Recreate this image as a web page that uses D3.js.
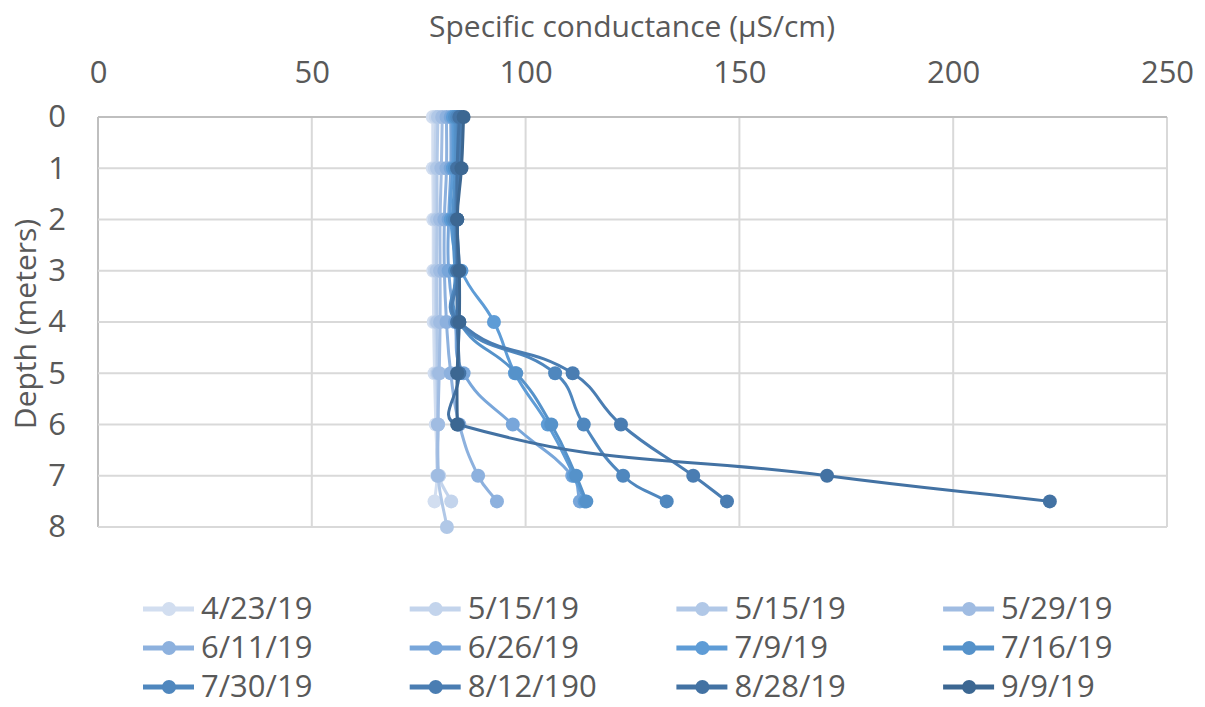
<!DOCTYPE html>
<html>
<head>
<meta charset="utf-8">
<script src="https://cdn.jsdelivr.net/npm/d3@7"></script>
<style>
  body { margin: 0; background: #fff; }
  text { font-family: 'Open Sans', sans-serif; fill: #595959; }
</style>
</head>
<body>
<svg id="chart"></svg>
<script>
const dates = ['4/23/19', '5/15/19', '5/15/19', '5/29/19', '6/11/19', '6/26/19',
  '7/9/19', '7/16/19', '7/30/19', '8/12/190', '8/28/19', '9/9/19'];

const depths = [0, 1, 2, 3, 4, 5, 6, 7, 7.5, 8];

// specific conductance per sampling date, one value per depth (null = not sampled)
const conductance = [
  [78.3, 78.3, 78.4, 78.4, 78.5, 78.7, 79.0, 79.3, 78.7, null],
  [79.0, 78.8, 78.8, 78.8, 79.0, 79.2, 79.5, 79.8, 82.6, null],
  [79.5, 79.3, 79.3, 79.2, 79.3, 79.5, 79.5, 79.5, null, 81.6],
  [80.5, 80.3, 80.0, 80.0, 80.0, 79.8, 79.5, 79.5, null, null],
  [81.5, 81.5, 81.0, 81.0, 81.5, 82.5, 84.5, 88.9, 93.3, null],
  [82.5, 82.5, 82.0, 82.0, 83.5, 85.5, 97.0, 110.9, 112.7, null],
  [83.0, 83.0, 82.5, 85.0, 92.6, 97.5, 105.2, 111.3, 113.8, null],
  [83.5, 83.5, 83.0, 83.5, 84.5, 97.8, 106.0, 111.8, 114.2, null],
  [84.0, 84.0, 83.5, 84.0, 84.0, 106.9, 113.6, 122.8, 133.0, null],
  [85.0, 84.5, 84.0, 84.5, 84.5, 111.0, 122.3, 139.2, 147.1, null],
  [84.5, 84.0, 84.0, 84.0, 84.0, 84.5, 84.2, 170.5, 222.6, null],
  [85.5, 85.0, 84.0, 84.5, 84.5, 84.0, 84.0, null, null, null],
];

const colors = ['#d2def0', '#c3d4ec', '#b1c8e7', '#a0bce2', '#8db1de', '#78a6da',
  '#5e9cd6', '#5592ca', '#4f87be', '#4a7db2', '#4372a3', '#3c6792'];

const xTicks = [0, 50, 100, 150, 200, 250];
const yTicks = [0, 1, 2, 3, 4, 5, 6, 7, 8];

const width = 1205;
const height = 707;
const margin = { top: 117, right: 38, bottom: 180, left: 98 };

// spreadsheet-style smoothed line: tangent along neighbours, handle length tied to the segment
function smoothCurve(context) {
  const k = 0.45;
  let pts = [];
  return {
    areaStart() {},
    areaEnd() {},
    lineStart() { pts = []; },
    point(px, py) { pts.push([+px, +py]); },
    lineEnd() {
      const n = pts.length;
      if (!n) return;
      context.moveTo(pts[0][0], pts[0][1]);
      if (n === 1) return;
      const tangent = i => {
        const a = pts[Math.max(0, i - 1)];
        const b = pts[Math.min(n - 1, i + 1)];
        const dx = b[0] - a[0], dy = b[1] - a[1];
        const len = Math.hypot(dx, dy) || 1;
        return [dx / len, dy / len];
      };
      for (let i = 0; i < n - 1; i++) {
        const p0 = pts[i], p1 = pts[i + 1];
        const d = Math.hypot(p1[0] - p0[0], p1[1] - p0[1]) * k;
        const t0 = tangent(i), t1 = tangent(i + 1);
        context.bezierCurveTo(
          p0[0] + t0[0] * d, p0[1] + t0[1] * d,
          p1[0] - t1[0] * d, p1[1] - t1[1] * d,
          p1[0], p1[1]);
      }
    },
  };
}

const svg = d3.select('#chart')
  .attr('width', width)
  .attr('height', height);

const x = d3.scaleLinear()
  .domain([0, 250])
  .range([margin.left, width - margin.right]);
const y = d3.scaleLinear()
  .domain([0, 8])
  .range([margin.top, height - margin.bottom]);

// grid
svg.append('g')
  .selectAll('line.v')
  .data(xTicks)
  .enter().append('line')
    .attr('x1', d => x(d)).attr('x2', d => x(d))
    .attr('y1', y(0)).attr('y2', y(8))
    .attr('stroke', d => d === 0 ? '#bfbfbf' : '#d9d9d9')
    .attr('stroke-width', 2);

svg.append('g')
  .selectAll('line.h')
  .data(yTicks)
  .enter().append('line')
    .attr('x1', x(0)).attr('x2', x(250))
    .attr('y1', d => y(d)).attr('y2', d => y(d))
    .attr('stroke', d => d === 0 ? '#bfbfbf' : '#d9d9d9')
    .attr('stroke-width', 2);

// axes labels
const xAxis = d3.axisTop(x).tickValues(xTicks).tickSize(0).tickPadding(34);
svg.append('g')
  .attr('transform', `translate(0, ${margin.top})`)
  .call(xAxis)
  .call(g => g.select('.domain').remove())
  .selectAll('text')
    .style('font-size', '31px')
    .attr('fill', '#595959');

const yAxis = d3.axisLeft(y).tickValues(yTicks).tickSize(0).tickPadding(32);
svg.append('g')
  .attr('transform', `translate(${margin.left}, 0)`)
  .call(yAxis)
  .call(g => g.select('.domain').remove())
  .selectAll('text')
    .style('font-size', '31px')
    .attr('fill', '#595959');

svg.append('text')
  .attr('x', 632)
  .attr('y', 37)
  .attr('text-anchor', 'middle')
  .style('font-size', '30px')
  .text('Specific conductance (µS/cm)');

svg.append('text')
  .attr('transform', `translate(36, ${(y(0) + y(8)) / 2 + 2}) rotate(-90)`)
  .attr('text-anchor', 'middle')
  .style('font-size', '30px')
  .text('Depth (meters)');

// series
const series = dates.map((date, i) => ({
  date,
  color: colors[i],
  points: depths.map((d, j) => ({ depth: d, value: conductance[i][j] }))
    .filter(p => p.value !== null),
}));

const line = d3.line()
  .x(p => x(p.value))
  .y(p => y(p.depth))
  .curve(smoothCurve);

const seriesG = svg.append('g')
  .selectAll('g.series')
  .data(series)
  .enter().append('g')
    .attr('class', 'series');

seriesG.append('path')
  .attr('d', d => line(d.points))
  .attr('fill', 'none')
  .attr('stroke', d => d.color)
  .attr('stroke-width', 3);

seriesG.selectAll('circle')
  .data(d => d.points.map(p => Object.assign({ color: d.color }, p)))
  .enter().append('circle')
    .attr('cx', p => x(p.value))
    .attr('cy', p => y(p.depth))
    .attr('r', 7)
    .attr('fill', p => p.color);

// legend
const legend = svg.append('g')
  .selectAll('g.item')
  .data(series)
  .enter().append('g')
    .attr('class', 'item')
    .attr('transform', (d, i) => `translate(${143 + (i % 4) * 266.7}, ${609 + Math.floor(i / 4) * 39})`);

legend.append('line')
  .attr('x1', 0).attr('x2', 51)
  .attr('stroke', d => d.color)
  .attr('stroke-width', 5);

legend.append('circle')
  .attr('cx', 26)
  .attr('r', 7)
  .attr('fill', d => d.color);

legend.append('text')
  .attr('x', 58)
  .attr('dy', '0.33em')
  .style('font-size', '31px')
  .text(d => d.date);
</script>
</body>
</html>
